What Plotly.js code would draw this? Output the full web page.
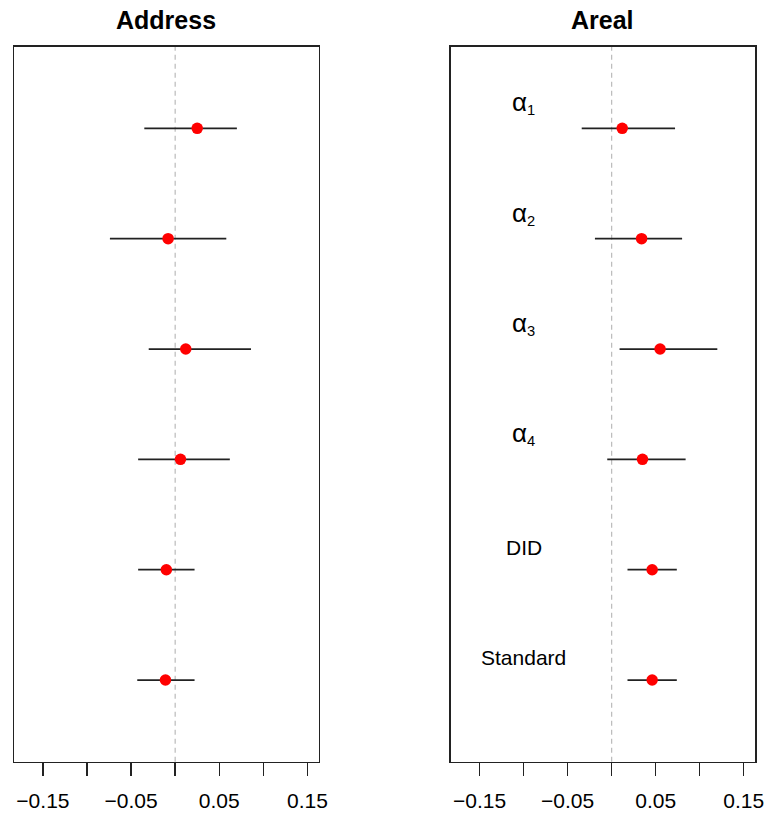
<!DOCTYPE html>
<html>
<head>
<meta charset="utf-8">
<script src="https://cdn.plot.ly/plotly-3.0.1.min.js"></script>
<style>html,body{margin:0;padding:0;background:#fff;}#chart{width:768px;height:817px;}</style>
</head>
<body>
<div id="chart"></div>
<script>
// Rows from top (6) to bottom (1)
const rowPos = [6, 5, 4, 3, 2, 1];
const rowLabels = ["<span style='font-size:26px'>α</span><sub>1</sub>", "<span style='font-size:26px'>α</span><sub>2</sub>", "<span style='font-size:26px'>α</span><sub>3</sub>", "<span style='font-size:26px'>α</span><sub>4</sub>", "DID", "Standard"];
const panelTitles = ["Address", "Areal"];

// Address panel estimates and 95% intervals
const addressEst  = [0.025, -0.008, 0.012, 0.006, -0.010, -0.011];
const addressLow  = [-0.035, -0.074, -0.030, -0.042, -0.042, -0.043];
const addressHigh = [0.070, 0.058, 0.086, 0.062, 0.022, 0.022];

// Areal panel estimates and 95% intervals
const arealEst  = [0.012, 0.034, 0.055, 0.035, 0.046, 0.046];
const arealLow  = [-0.034, -0.019, 0.009, -0.005, 0.018, 0.018];
const arealHigh = [0.072, 0.080, 0.120, 0.084, 0.074, 0.074];

const labeledTicks = [-0.15, -0.05, 0.05, 0.15];
const labeledText = ["\u22120.15", "\u22120.05", "0.05", "0.15"];
const unlabeledTicks = [-0.10, 0, 0.10];

const labelX = -0.10;

function mkTrace(est, lo, hi, xa, ya) {
  return {
    type: 'scatter', mode: 'markers',
    x: est, y: rowPos, xaxis: xa, yaxis: ya,
    marker: {color: '#ff0000', size: 11.5},
    error_x: {
      type: 'data', symmetric: false,
      array: est.map((v, i) => hi[i] - v),
      arrayminus: est.map((v, i) => v - lo[i]),
      width: 0, thickness: 1.8, color: '#222222'
    },
    hoverinfo: 'skip', showlegend: false, cliponaxis: false
  };
}

const FONT = 'Liberation Sans, Arial, Helvetica, sans-serif';
const xr = [-0.1828, 0.1628];
const yr = [0.26, 6.74];
const yDom = [1 - 761.7/817, 1 - 46.7/817];

function xaxisDef(dom) {
  return {
    domain: dom, range: xr, showgrid: false, zeroline: false,
    showline: true, mirror: true, linecolor: '#222', linewidth: 1.5,
    ticks: 'outside', ticklen: 13, tickwidth: 1.5, tickcolor: '#222',
    tickvals: labeledTicks, ticktext: labeledText, ticklabelstandoff: 7,
    minor: {tickvals: unlabeledTicks, ticks: 'outside', ticklen: 13, tickwidth: 1.5, tickcolor: '#222', showgrid: false},
    tickfont: {family: FONT, size: 21, color: '#000'}, fixedrange: true
  };
}
function yaxisDef(anchor) {
  return {
    domain: yDom, range: yr, showgrid: false, zeroline: false,
    showline: true, mirror: true, linecolor: '#222', linewidth: 1.5,
    showticklabels: false, ticks: '', anchor: anchor, fixedrange: true
  };
}

const annotations = [];
rowLabels.forEach((t, i) => {
  const off = i < 4 ? 0.23 : 0.2;
  annotations.push({
    x: labelX, y: rowPos[i] + off, xref: 'x2', yref: 'y2',
    text: t, showarrow: false, xanchor: 'center', yanchor: 'middle',
    font: {family: FONT, size: 21, color: '#000'}
  });
});
const titleX = [(14 + 318.7) / 2 / 768, (450.7 + 755) / 2 / 768];
panelTitles.forEach((t, i) => {
  annotations.push({
    x: titleX[i], y: 1 - 20/817, xref: 'paper', yref: 'paper',
    text: '<b>' + t + '</b>', showarrow: false, xanchor: 'center', yanchor: 'middle',
    font: {family: FONT, size: 25, color: '#000'}
  });
});

const shapes = [
  {type: 'line', xref: 'x', yref: 'y domain', x0: 0, x1: 0, y0: 0, y1: 1,
   line: {color: '#bbbbbb', width: 1.2, dash: '5px,4px'}, layer: 'below'},
  {type: 'line', xref: 'x2', yref: 'y2 domain', x0: 0, x1: 0, y0: 0, y1: 1,
   line: {color: '#bbbbbb', width: 1.2, dash: '5px,4px'}, layer: 'below'}
];

const layout = {
  width: 768, height: 817,
  margin: {l: 0, r: 0, t: 0, b: 0},
  paper_bgcolor: '#fff', plot_bgcolor: '#fff',
  xaxis: Object.assign(xaxisDef([14/768, 318.7/768]), {anchor: 'y'}),
  yaxis: yaxisDef('x'),
  xaxis2: Object.assign(xaxisDef([450.7/768, 755/768]), {anchor: 'y2'}),
  yaxis2: yaxisDef('x2'),
  annotations: annotations, shapes: shapes, showlegend: false
};

Plotly.newPlot('chart', [
  mkTrace(addressEst, addressLow, addressHigh, 'x', 'y'),
  mkTrace(arealEst, arealLow, arealHigh, 'x2', 'y2')
], layout, {staticPlot: true, displayModeBar: false});
</script>
</body>
</html>
